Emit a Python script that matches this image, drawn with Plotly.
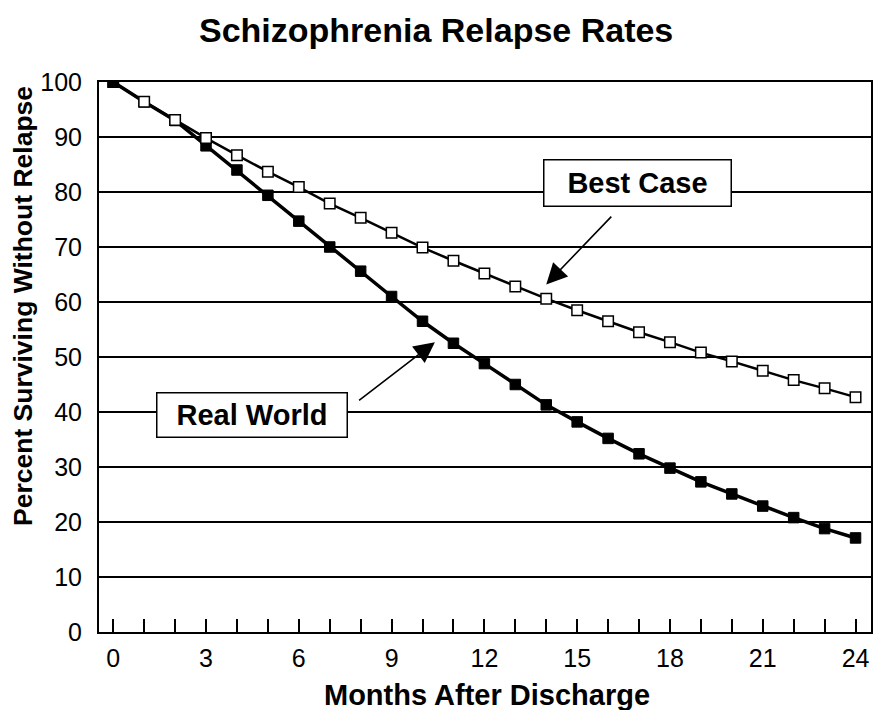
import plotly.graph_objects as go

months = list(range(25))
real_world = [100, 96.4, 93.0, 88.4, 84.0, 79.4, 74.7, 70.0, 65.6, 61.0, 56.5, 52.5,
              48.8, 45.0, 41.3, 38.2, 35.2, 32.4, 29.8, 27.3, 25.1, 22.9, 20.8, 18.8, 17.1]
best_case = [100, 96.4, 93.1, 89.8, 86.7, 83.7, 80.9, 77.9, 75.3, 72.6, 69.9, 67.5,
             65.2, 62.8, 60.6, 58.5, 56.5, 54.5, 52.7, 50.8, 49.2, 47.5, 45.8, 44.3, 42.7]
x_tick_vals = months
x_tick_text = [str(m) if m % 3 == 0 else "" for m in months]
y_tick_vals = [0, 10, 20, 30, 40, 50, 60, 70, 80, 90, 100]

FONT = "Liberation Sans, Arial, Helvetica, sans-serif"

fig = go.Figure()
fig.add_trace(go.Scatter(
    x=months, y=real_world, name="Real World", mode="lines+markers",
    line=dict(color="black", width=3.5),
    marker=dict(symbol="square", size=10.5, color="black", line=dict(color="black", width=1)),
))
fig.add_trace(go.Scatter(
    x=months, y=best_case, name="Best Case", mode="lines+markers",
    line=dict(color="black", width=2.5),
    marker=dict(symbol="square", size=10.5,
                color=["black"] + ["white"] * (len(months) - 1),
                line=dict(color="black", width=1.5)),
))

# labels (boxes) and arrows
fig.add_annotation(x=16.94, y=81.6, xref="x", yref="y", text="<b>Best Case</b>",
                   showarrow=False, bgcolor="white", bordercolor="black", borderwidth=1.5,
                   width=184, height=43, font=dict(family=FONT, size=29, color="black"))
fig.add_annotation(x=14.0, y=63.2, ax=16.15, ay=75.8, xref="x", yref="y", axref="x", ayref="y",
                   text="", showarrow=True, arrowhead=2, arrowsize=2.6, arrowwidth=1.6,
                   arrowcolor="black")
fig.add_annotation(x=4.49, y=39.5, xref="x", yref="y", text="<b>Real World</b>",
                   showarrow=False, bgcolor="white", bordercolor="black", borderwidth=1.5,
                   width=187, height=41, font=dict(family=FONT, size=29, color="black"))
fig.add_annotation(x=10.4, y=52.7, ax=7.9, ay=41.9, xref="x", yref="y", axref="x", ayref="y",
                   text="", showarrow=True, arrowhead=2, arrowsize=2.6, arrowwidth=1.6,
                   arrowcolor="black")

# title and axis titles
fig.add_annotation(x=0.436, y=(632 - 30) / 550, xref="paper", yref="paper",
                   text="<b>Schizophrenia Relapse Rates</b>", showarrow=False,
                   xanchor="center", yanchor="middle",
                   font=dict(family=FONT, size=34, color="black"))
fig.add_annotation(x=(487 - 99) / 772, y=(632 - 695) / 550, xref="paper", yref="paper",
                   text="<b>Months After Discharge</b>", showarrow=False,
                   xanchor="center", yanchor="middle",
                   font=dict(family=FONT, size=29, color="black"))
fig.add_annotation(x=(23 - 99) / 772, y=(632 - 306) / 550, xref="paper", yref="paper",
                   text="<b>Percent Surviving Without Relapse</b>", showarrow=False,
                   textangle=-90, xanchor="center", yanchor="middle",
                   font=dict(family=FONT, size=26.5, color="black"))

fig.update_layout(
    width=874, height=710, autosize=False,
    paper_bgcolor="white", plot_bgcolor="white",
    margin=dict(l=99, r=3, t=82, b=78, autoexpand=False),
    showlegend=False,
    font=dict(family=FONT, color="black"),
    xaxis=dict(range=[-0.46, 24.5], tickvals=x_tick_vals, ticktext=x_tick_text,
               ticks="inside", ticklen=13, tickwidth=1.5, tickcolor="black",
               showgrid=False, zeroline=False, showline=True, linecolor="black",
               linewidth=2, mirror=True, ticklabelstandoff=3, automargin=False,
               tickfont=dict(family=FONT, size=25, color="black")),
    yaxis=dict(range=[0, 100], tickvals=y_tick_vals, ticks="",
               showgrid=True, gridcolor="black", gridwidth=1.5, zeroline=False,
               showline=True, linecolor="black", linewidth=2, mirror=True,
               ticklabelstandoff=10, automargin=False,
               tickfont=dict(family=FONT, size=25, color="black")),
)

fig.write_html("out.html", config={"displayModeBar": False},
               post_script="document.body.style.margin='0';document.body.style.overflow='hidden';")
